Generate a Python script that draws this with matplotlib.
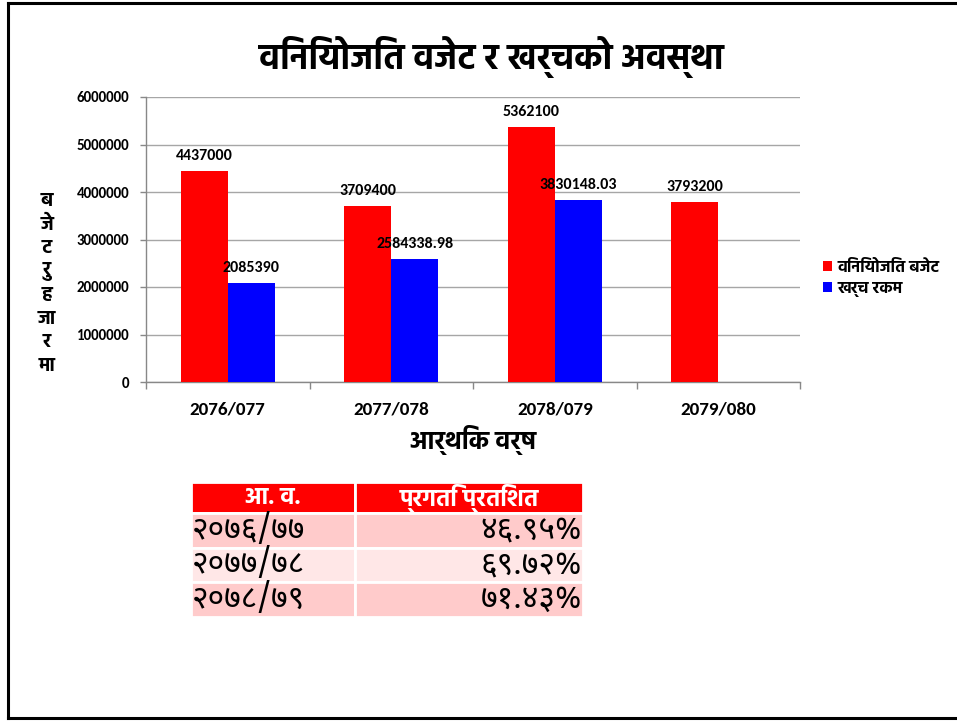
import matplotlib
matplotlib.use("Agg")
import matplotlib.pyplot as plt
from matplotlib import font_manager
from matplotlib.patches import Patch
from matplotlib.lines import Line2D
import numpy as np

# ---------------- data ----------------
categories = ["2076/077", "2077/078", "2078/079", "2079/080"]
budget = [4437000, 3709400, 5362100, 3793200]
expense = [2085390, 2584338.98, 3830148.03, np.nan]
budget_labels = ["4437000", "3709400", "5362100", "3793200"]
expense_labels = ["2085390", "2584338.98", "3830148.03", ""]
series_names = ["विनियोजित बजेट", "खर्च रकम"]
yticks = [0, 1000000, 2000000, 3000000, 4000000, 5000000, 6000000]

title = "विनियोजित वजेट र खर्चको अवस्था"
xlabel = "आर्थिक वर्ष"
ylabel_chars = ["ब", "जे", "ट", "रु", "ह", "जा", "र", "मा"]

table_header = ["आ. व.", "प्रगति प्रतिशत"]
table_years = ["२०७६/७७", "२०७७/७८", "२०७८/७९"]
table_pcts = ["४६.९५%", "६९.७२%", "७१.४३%"]

# ---------------- fonts ----------------
fl = font_manager.fontManager.ttflist
names = {f.name for f in fl}
bold_names = {f.name for f in fl if (isinstance(f.weight, int) and f.weight >= 600)
              or (isinstance(f.weight, str) and "bold" in f.weight.lower())}

def pick(cands, need_bold=False, default="DejaVu Sans"):
    for c in cands:
        if c in names and (not need_bold or c in bold_names):
            return c
    for c in cands:
        if c in names:
            return c
    return default

latin = pick(["Carlito", "Calibri", "Open Sans", "Noto Sans"], need_bold=True)
deva = pick(["Hind", "Mukta", "Poppins", "Noto Sans Devanagari", "Yantramanav",
             "Martel Sans", "Amiko", "Annapurna SIL"], need_bold=True)
deva_reg = pick(["Noto Sans Devanagari", "Mukta", "Poppins", "Amiko", "Hind"])
FAM = [latin, deva, "DejaVu Sans"]
DFAM = [deva, latin, "DejaVu Sans"]
RFAM = [deva_reg, latin, "DejaVu Sans"]
plt.rcParams["font.family"] = FAM

RED = "#FF0000"
BLUE = "#0000FF"
GRID = "#A6A6A6"

W, H = 957, 721
fig = plt.figure(figsize=(W / 100, H / 100), dpi=100)

def fx(px):
    return px / W
def fy(py):
    return 1 - py / H

# ---------------- chart ----------------
ax = fig.add_axes([fx(146), fy(382), fx(800) - fx(146), fy(97) - fy(382)])
x = np.arange(len(categories))
bw = 0.2875
b1 = ax.bar(x - bw / 2, budget, bw, color=RED, zorder=3)
b2 = ax.bar(x + bw / 2, expense, bw, color=BLUE, zorder=3)

ax.set_xlim(-0.5, len(categories) - 0.5)
ax.set_ylim(0, 6000000)
ax.set_yticks(yticks)
ax.set_yticklabels([str(v) for v in yticks], fontweight="bold", fontsize=10.8, family=FAM)
ax.yaxis.grid(True, color=GRID, linewidth=1, zorder=0)
ax.set_axisbelow(True)

# category boundary ticks (major) and centred labels (minor)
ax.set_xticks(np.arange(-0.5, len(categories), 1.0))
ax.set_xticklabels([])
ax.set_xticks(x, minor=True)
ax.set_xticklabels(categories, minor=True, fontweight="bold", fontsize=13.8, family=FAM)
ax.tick_params(axis="x", which="major", length=5, color="#888888", width=1)
ax.tick_params(axis="x", which="minor", length=0, pad=14)
ax.tick_params(axis="y", length=4, color="#888888", width=1, pad=8)

for s in ["top", "right"]:
    ax.spines[s].set_visible(False)
for s in ["left", "bottom"]:
    ax.spines[s].set_color("#888888")
    ax.spines[s].set_linewidth(1)

for bars, labels in ((b1, budget_labels), (b2, expense_labels)):
    for rect, lab in zip(bars, labels):
        if lab:
            ax.annotate(lab, (rect.get_x() + rect.get_width() / 2, rect.get_height()),
                        xytext=(0, 11), textcoords="offset points", ha="center", va="center",
                        fontsize=11.5, fontweight="bold", family=FAM, zorder=5)

# legend
handles = [Patch(facecolor=RED, edgecolor="none"), Patch(facecolor=BLUE, edgecolor="none")]
fig.legend(handles, series_names, loc="upper left", bbox_to_anchor=(fx(815), fy(252)),
           frameon=False, handlelength=0.55, handleheight=0.55, handletextpad=0.3,
           labelspacing=0.4, borderpad=0, prop={"family": DFAM, "weight": "bold", "size": 11.8})

# titles and axis labels
fig.text(fx(491), fy(57), title, ha="center", va="center", fontsize=25,
         fontweight="bold", family=DFAM)
fig.text(fx(473), fy(440), xlabel, ha="center", va="center", fontsize=18,
         fontweight="bold", family=DFAM)
# stacked (one glyph cluster per line) y-axis label
ylab_top, ylab_bottom = 201, 366
for i, ch in enumerate(ylabel_chars):
    py = ylab_top + i * (ylab_bottom - ylab_top) / (len(ylabel_chars) - 1)
    fig.text(fx(47), fy(py), ch, ha="center", va="center", fontsize=14,
             fontweight="bold", family=DFAM)

# ---------------- table ----------------
tax = fig.add_axes([fx(191), fy(617), fx(583) - fx(191), fy(482) - fy(617)])
tax.axis("off")
cell_text = [[y, p] for y, p in zip(table_years, table_pcts)]
tbl = tax.table(cellText=cell_text, colLabels=table_header, bbox=[0, 0, 1, 1],
                colWidths=[0.418, 0.582], cellLoc="left")
tbl.auto_set_font_size(False)
row_colors = ["#FFCBCB", "#FFE7E7", "#FFCBCB"]
hdr_h = 31 / 135
row_h = (1 - hdr_h) / 3
for (r, c), cell in tbl.get_celld().items():
    cell.set_edgecolor("white")
    cell.set_linewidth(2)
    cell.PAD = 0.005
    t = cell.get_text()
    if r == 0:
        cell.set_height(hdr_h)
        cell.set_facecolor(RED)
        t.set_color("white")
        t.set_fontweight("bold")
        t.set_fontsize(17)
        t.set_family(DFAM)
        t.set_horizontalalignment("center")
        cell._loc = "center"
    else:
        cell.set_height(row_h)
        cell.set_facecolor(row_colors[r - 1])
        t.set_color("black")
        t.set_fontsize(23)
        t.set_family(RFAM)
        if c == 1:
            cell._loc = "right"
            t.set_horizontalalignment("right")
        else:
            cell._loc = "left"

# ---------------- frame ----------------
fig.add_artist(Line2D([fx(8), 1.0], [fy(3), fy(3)], color="black", linewidth=2.2))
fig.add_artist(Line2D([fx(8), fx(8)], [fy(3), fy(718)], color="black", linewidth=2.2))
fig.add_artist(Line2D([fx(8), 1.0], [fy(718), fy(718)], color="black", linewidth=2.2))

fig.savefig("out.png", dpi=100)
